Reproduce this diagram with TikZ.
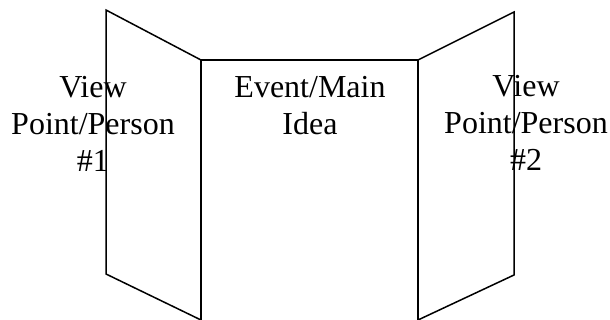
\documentclass[tikz,border=0pt]{standalone}
\usepackage{fontspec}
\setmainfont{Liberation Serif}
\begin{document}
\begin{tikzpicture}[x=1pt,y=-1pt,
  panel/.style={draw=black,line width=1.5pt,line join=miter},
  caption/.style={font=\fontsize{32}{37}\selectfont,align=center,inner sep=0pt,anchor=base}]
\useasboundingbox (0,0) rectangle (610,320);
% captions sit under the board outline
\node[caption] (left) at (93,172) {View\\Point/Person\\\#1};
\node[caption] (mid) at (310,135) {Event/Main\\Idea};
\node[caption] (right) at (526,171) {View\\Point/Person\\\#2};
% centre panel
\draw[panel] (201,320) -- (201,60) -- (418,60) -- (418,320);
% left wing
\draw[panel] (201,320) -- (106,274) -- (106,10) -- (201,60);
% right wing
\draw[panel] (418,320) -- (514,275) -- (514,12) -- (418,60);
\end{tikzpicture}
\end{document}
